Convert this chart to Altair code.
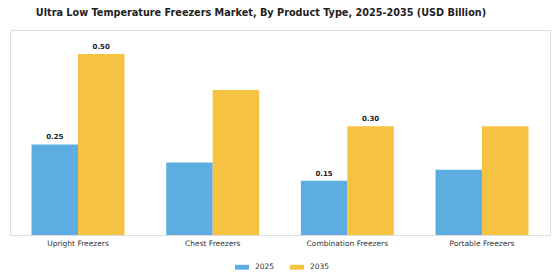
import altair as alt
import pandas as pd

categories = ["Upright Freezers", "Chest Freezers", "Combination Freezers", "Portable Freezers"]
years = ["2025", "2035"]
values_2025 = [0.25, 0.20, 0.15, 0.18]
values_2035 = [0.50, 0.40, 0.30, 0.30]
labelled = [("Upright Freezers", "2025"), ("Upright Freezers", "2035"),
            ("Combination Freezers", "2025"), ("Combination Freezers", "2035")]

rows = []
for c, a, b in zip(categories, values_2025, values_2035):
    for y, v in zip(years, [a, b]):
        rows.append({"category": c, "year": y, "value": v,
                     "label": f"{v:.2f}" if (c, y) in labelled else ""})
df = pd.DataFrame(rows)

colors = ["#5DADE2", "#F5C242"]

base = alt.Chart(df).encode(
    x=alt.X("category:N", sort=categories, title=None,
            scale=alt.Scale(paddingInner=0.31, paddingOuter=0.16),
            axis=alt.Axis(labelAngle=0, labelFontSize=7.5, labelColor="#333333",
                          labelFont="DejaVu Sans", labelPadding=4, ticks=False,
                          domainColor="#dddddd", domainWidth=1)),
    xOffset=alt.XOffset("year:N", sort=years),
    y=alt.Y("value:Q", axis=None, scale=alt.Scale(domain=[0, 0.566], nice=False)),
)

bars = base.mark_bar().encode(
    color=alt.Color("year:N", sort=years,
                    scale=alt.Scale(domain=years, range=colors),
                    legend=alt.Legend(title=None, orient="none", direction="horizontal",
                                      legendX=225, legendY=230,
                                      symbolType="M-1,-0.35 L1,-0.35 L1,0.35 L-1,0.35 Z",
                                      symbolSize=196, symbolStrokeWidth=0,
                                      labelFontSize=7.5, labelFont="DejaVu Sans",
                                      labelOffset=6,
                                      labelColor="#333333", columnPadding=15))
)

text = base.transform_filter(alt.datum.label != "").mark_text(
    dy=-7, fontSize=7, fontWeight="bold", font="DejaVu Sans", color="#222222"
).encode(text="label:N")

chart = alt.layer(bars, text).properties(
    width=540, height=205,
    title=alt.Title("Ultra Low Temperature Freezers Market, By Product Type, 2025-2035 (USD Billion)",
                    fontSize=9.7, fontWeight="bold", font="DejaVu Sans", color="#222222",
                    anchor="middle", offset=12, dx=-19),
    autosize=alt.AutoSizeParams(type="none"),
    padding={"left": 10, "top": 30, "right": 10, "bottom": 45},
).configure_view(stroke=None).configure(background="white")

chart.save("out.html", embed_options={"renderer": "svg", "actions": False})
